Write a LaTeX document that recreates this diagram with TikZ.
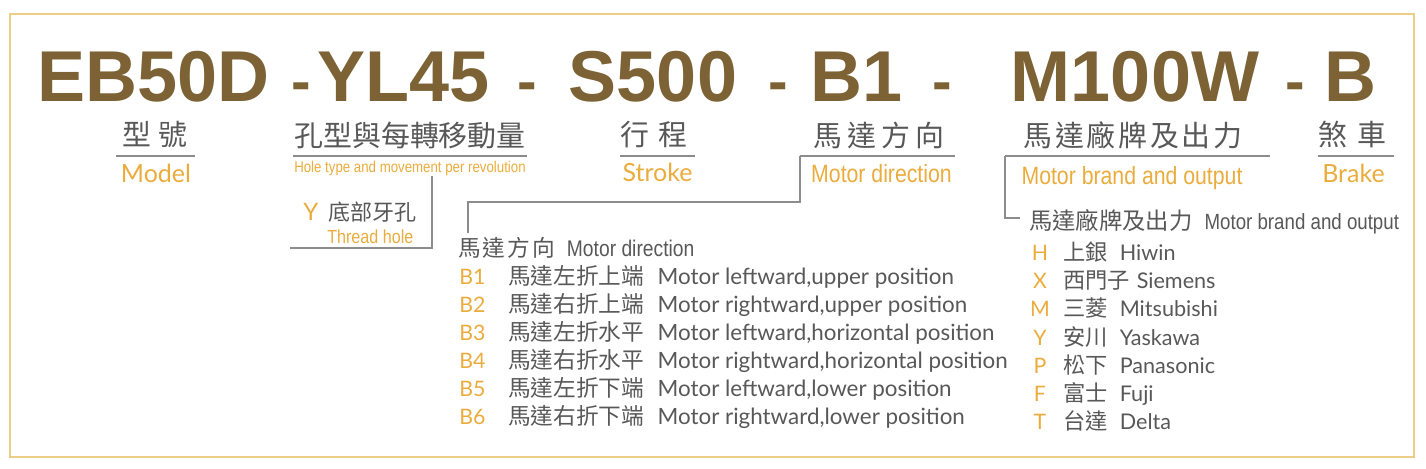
\documentclass[tikz,border=0pt]{standalone}
\usepackage{fontspec}
\usepackage{tikz}
\usetikzlibrary{positioning}
\setmainfont{Lato}
\newfontfamily\heavyfam{Liberation Sans}
\newfontfamily\cjkfam{Noto Sans CJK TC}
\newfontfamily\condfam[FakeStretch=0.85]{Liberation Sans}
\definecolor{codebrown}{RGB}{124,98,52}
\definecolor{tagorange}{RGB}{234,172,60}
\definecolor{txtgray}{RGB}{88,88,88}
\definecolor{rulegray}{RGB}{140,140,140}
\definecolor{framegold}{RGB}{236,206,135}
\newcommand{\zgap}{\hspace{2pt}}
\tikzstyle{code}=[text=codebrown, inner sep=0pt, anchor=base, font=\heavyfam\bfseries\fontsize{54}{54}\selectfont]
\tikzstyle{codedash}=[code, font=\heavyfam\bfseries\fontsize{44}{44}\selectfont]
\tikzstyle{head}=[text=txtgray, inner sep=0pt, font=\cjkfam\fontsize{21.7}{22}\selectfont]
\tikzstyle{tag}=[text=tagorange, inner sep=0pt, anchor=base, font=\fontsize{18.75}{19}\selectfont]
\tikzstyle{tagcond}=[text=tagorange, inner sep=0pt, anchor=base, font=\condfam\fontsize{18.75}{19}\selectfont]
\tikzstyle{listcode}=[text=tagorange, inner sep=0pt, anchor=base west, font=\fontsize{16}{16}\selectfont]
\tikzstyle{listrow}=[text=txtgray, inner sep=0pt, anchor=base west, font=\fontsize{16.8}{17}\selectfont]
\tikzstyle{brandrow}=[listrow, font=\fontsize{16.2}{17}\selectfont]
\tikzstyle{rule}=[rulegray, line width=1.1pt]
\tikzstyle{bracket}=[rulegray, line width=0.9pt]

\begin{document}
\begin{tikzpicture}[x=0.75pt,y=-0.75pt]

      \useasboundingbox (0,0) rectangle (1426,468);
      \draw[framegold, line width=1.4pt] (10,14) rectangle (1414,457);

      % model code
      \node[code] (c1) at (153.5,101) {EB50D};
      \node[codedash] (c2) at (301.5,101) {-};
      \node[code] (c3) at (403.5,101) {YL45};
      \node[codedash] (c4) at (527,101) {-};
      \node[code] (c5) at (653,101) {S500};
      \node[codedash] (c6) at (778,101) {-};
      \node[code] (c7) at (856.5,101) {B1};
      \node[codedash] (c8) at (942,101) {-};
      \node[code] (c9) at (1135,101) {M100W};
      \node[codedash] (c10) at (1295,101) {-};
      \node[code] (c11) at (1350.5,101) {B};

      % headings
      \node[head] (h1) at (155,135) {型\hspace{6pt}號};
      \node[head] (h2) at (410,135) {孔型與每轉移動量};
      \node[head] (h3) at (654,135) {行\hspace{7pt}程};
      \node[head] (h4) at (879,135) {馬\hspace{4pt}達\hspace{4pt}方\hspace{4pt}向};
      \node[head] (h5) at (1133,135) {馬\zgap 達\zgap 廠\zgap 牌\zgap 及\zgap 出\zgap 力};
      \node[head] (h6) at (1352.5,135) {煞\hspace{8pt}車};

      \coordinate (u1a) at (116,156);  \coordinate (u1b) at (195,156);
      \coordinate (u2a) at (293,156);  \coordinate (u2b) at (527,156);
      \coordinate (u3a) at (620,156);  \coordinate (u3b) at (695,156);
      \coordinate (u4a) at (800,156);  \coordinate (u4b) at (955,156);
      \coordinate (u5a) at (1005,156); \coordinate (u5b) at (1270,156);
      \coordinate (u6a) at (1318,156); \coordinate (u6b) at (1394,156);

      \draw[rule] (u1a) -- (u1b);
      \draw[rule] (u2a) -- (u2b);
      \draw[rule] (u3a) -- (u3b);
      \draw[rule] (u4a) -- (u4b);
      \draw[rule] (u5a) -- (u5b);
      \draw[rule] (u6a) -- (u6b);

      \node[tag] (l1) at (156,182) {Model};
      \node[tagcond, font=\condfam\fontsize{11.7}{12}\selectfont] (l2) at (410,172) {Hole type and movement per revolution};
      \node[tag] (l3) at (657.5,181) {Stroke};
      \node[tagcond] (l4) at (881.5,182) {Motor direction};
      \node[tagcond] (l5) at (1132,184) {Motor brand and output};
      \node[tag] (l6) at (1353.5,182) {Brake};

      % hole type
      \node[listcode, font=\fontsize{18}{18}\selectfont] (y1) at (303,220) {Y};
      \node[listrow, font=\cjkfam\fontsize{16.5}{17}\selectfont, anchor=west] (y2) at (328,212) {底部牙孔};
      \node[tagcond, anchor=base west, font=\condfam\fontsize{14.25}{15}\selectfont] (y3) at (327,243) {Thread hole};

      \coordinate (p1) at (432,176);
      \coordinate (p2) at (290,248);
      \draw[bracket] (p1) |- (p2);

      % motor direction
      \coordinate (q2) at (468,202);
      \coordinate (q3) at (468,233);
      \draw[bracket] (u4a) |- (q2) -- (q3);

      \node[listrow] (d0) at (458,256) {{\cjkfam\fontsize{17}{17}\selectfont 馬\hspace{1.5pt}達\hspace{1.5pt}方\hspace{1.5pt}向}\hspace{9pt}{\condfam\fontsize{17}{17}\selectfont Motor direction}};
      \node[listcode] (b1) at (459,284.5) {B1};
      \node[listcode] (b2) at (459,312.5) {B2};
      \node[listcode] (b3) at (459,340.5) {B3};
      \node[listcode] (b4) at (459,368.5) {B4};
      \node[listcode] (b5) at (459,396.5) {B5};
      \node[listcode] (b6) at (459,424.5) {B6};
      \node[listrow] (d1) at (508,284.5) {{\cjkfam\fontsize{17}{17}\selectfont 馬達左折上端}\hspace{10pt}Motor leftward,upper position};
      \node[listrow] (d2) at (508,312.5) {{\cjkfam\fontsize{17}{17}\selectfont 馬達右折上端}\hspace{10pt}Motor rightward,upper position};
      \node[listrow] (d3) at (508,340.5) {{\cjkfam\fontsize{17}{17}\selectfont 馬達左折水平}\hspace{10pt}Motor leftward,horizontal position};
      \node[listrow] (d4) at (508,368.5) {{\cjkfam\fontsize{17}{17}\selectfont 馬達右折水平}\hspace{10pt}Motor rightward,horizontal position};
      \node[listrow] (d5) at (508,396.5) {{\cjkfam\fontsize{17}{17}\selectfont 馬達左折下端}\hspace{10pt}Motor leftward,lower position};
      \node[listrow] (d6) at (508,424.5) {{\cjkfam\fontsize{17}{17}\selectfont 馬達右折下端}\hspace{10pt}Motor rightward,lower position};

      % motor brand
      \coordinate (r2) at (1020,218);
      \draw[bracket] (u5a) |- (r2);

      \node[listrow] (m0) at (1029,229) {{\cjkfam\fontsize{17.5}{18}\selectfont 馬達廠牌及出力}\hspace{9pt}{\condfam\fontsize{16.5}{17}\selectfont Motor brand and output}};
      \node[listcode, anchor=base] (k1) at (1040,260.5) {H};
      \node[listcode, anchor=base] (k2) at (1040,288.7) {X};
      \node[listcode, anchor=base] (k3) at (1040,316.9) {M};
      \node[listcode, anchor=base] (k4) at (1040,345.1) {Y};
      \node[listcode, anchor=base] (k5) at (1040,373.3) {P};
      \node[listcode, anchor=base] (k6) at (1040,401.5) {F};
      \node[listcode, anchor=base] (k7) at (1040,429.7) {T};
      \node[brandrow] (m1) at (1063,260.5) {{\cjkfam\fontsize{16.7}{17}\selectfont 上銀}\hspace{9pt}Hiwin};
      \node[brandrow] (m2) at (1063,288.7) {{\cjkfam\fontsize{16.7}{17}\selectfont 西門子}\hspace{5pt}Siemens};
      \node[brandrow] (m3) at (1063,316.9) {{\cjkfam\fontsize{16.7}{17}\selectfont 三菱}\hspace{9pt}Mitsubishi};
      \node[brandrow] (m4) at (1063,345.1) {{\cjkfam\fontsize{16.7}{17}\selectfont 安川}\hspace{9pt}Yaskawa};
      \node[brandrow] (m5) at (1063,373.3) {{\cjkfam\fontsize{16.7}{17}\selectfont 松下}\hspace{9pt}Panasonic};
      \node[brandrow] (m6) at (1063,401.5) {{\cjkfam\fontsize{16.7}{17}\selectfont 富士}\hspace{9pt}Fuji};
      \node[brandrow] (m7) at (1063,429.7) {{\cjkfam\fontsize{16.7}{17}\selectfont 台達}\hspace{9pt}Delta};

    \end{tikzpicture}
\end{document}
